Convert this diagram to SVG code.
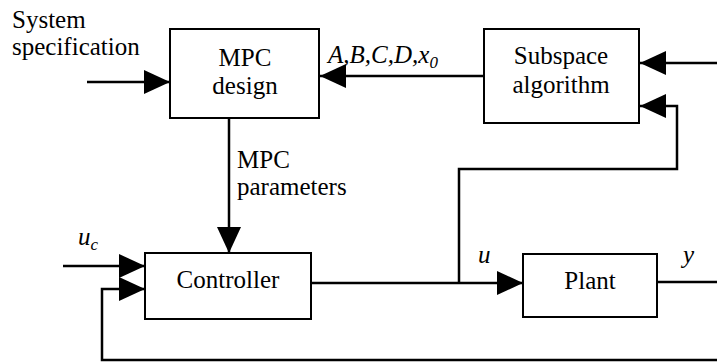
<svg xmlns="http://www.w3.org/2000/svg" width="717" height="362" viewBox="0 0 717 362">
<style>
.box{fill:#fff;stroke:#000;stroke-width:2}
.ln{fill:none;stroke:#000;stroke-width:2.5;marker-end:url(#ah)}
.pl{fill:none;stroke:#000;stroke-width:2.5}
.c{text-anchor:middle}
.i{font-style:italic}
</style>
<defs>
<marker id="ah" markerUnits="userSpaceOnUse" markerWidth="26" markerHeight="24" refX="26" refY="12" orient="auto">
<path d="M0,0 L26,12 L0,24 Z" fill="#000"/>
</marker>
</defs>
<rect width="717" height="362" fill="#fff"/>
<g id="connectors">
<path class="ln" d="M87,82 H170"/>
<path class="ln" d="M484,76 H320"/>
<path class="ln" d="M717,63 H640"/>
<path class="ln" d="M459,283 V169 H677 V106 H640"/>
<path class="ln" d="M229,118 V253"/>
<path class="ln" d="M63,266 H145"/>
<path class="ln" d="M717,360 H102 V289 H145"/>
<path class="ln" d="M311,283 H523"/>
<path class="pl" d="M657,282 H717"/>
</g>
<g font-family="'Liberation Serif', 'Times New Roman', Times, serif" font-size="25" fill="#000">
<g id="mpc-design">
<rect class="box" x="170" y="29" width="149" height="89"/>
<text class="c" x="245" y="66">MPC</text>
<text class="c" x="245" y="94">design</text>
</g>
<g id="subspace">
<rect class="box" x="484" y="29" width="155" height="94"/>
<text class="c" x="561" y="64">Subspace</text>
<text class="c" x="561" y="93">algorithm</text>
</g>
<g id="controller">
<rect class="box" x="145" y="253" width="166" height="66"/>
<text class="c" x="228" y="288">Controller</text>
</g>
<g id="plant">
<rect class="box" x="523" y="254" width="134" height="63"/>
<text class="c" x="590" y="289">Plant</text>
</g>
<g id="labels">
<text x="12" y="28">System</text>
<text x="12" y="55">specification</text>
<text x="237" y="168">MPC</text>
<text x="237" y="195">parameters</text>
<text class="i" x="328" y="63">A,B,C,D,x<tspan font-size="17" dy="5">0</tspan></text>
<text class="i" x="78" y="245">u<tspan font-size="17" dy="5">c</tspan></text>
<text class="i" x="478" y="263">u</text>
<text class="i" x="683" y="263">y</text>
</g>
</g>
</svg>
